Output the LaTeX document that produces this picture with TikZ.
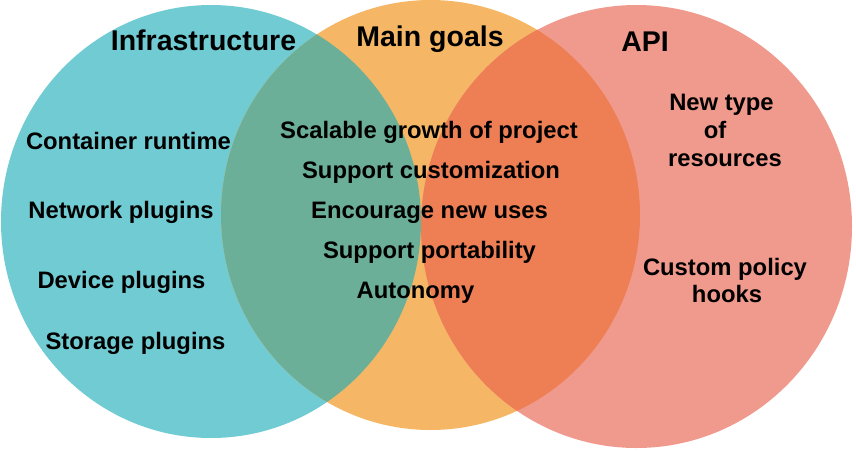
\documentclass[tikz,border=0pt]{standalone}
\usepackage{fontspec}
\setmainfont{Liberation Sans}
\definecolor{cteal}{HTML}{70CBD2}
\definecolor{corange}{HTML}{F5B766}
\definecolor{csalmon}{HTML}{F09A8D}
\definecolor{cgreen}{HTML}{6BAF98}
\definecolor{cred}{HTML}{EE7E54}
\tikzset{
  title/.style={anchor=base, inner sep=0pt, font=\bfseries\fontsize{28.5}{32}\selectfont},
  item/.style={anchor=base, inner sep=0pt, font=\bfseries\fontsize{23.8}{28}\selectfont},
}
\begin{document}
\begin{tikzpicture}[x=1pt,y=-1pt]
\useasboundingbox (0,0) rectangle (856,450);
\def\pathL{(211,221.5) ellipse [x radius=210pt, y radius=216.5pt]}
\def\pathM{(430.5,215) ellipse [x radius=209.5pt, y radius=215pt]}
\def\pathR{(636.5,226.5) ellipse [x radius=215.5pt, y radius=221.5pt]}
\fill[cteal] \pathL;
\fill[corange] \pathM;
\fill[csalmon] \pathR;
\begin{scope}
  \clip \pathM;
  \fill[cgreen] \pathL;
\end{scope}
\begin{scope}
  \clip \pathM;
  \fill[cred] \pathR;
\end{scope}
% titles
\node[title] (infra) at (203.5,50) {Infrastructure};
\node[title] (goals) at (430,46) {Main goals};
\node[title] (api) at (645,51) {API};
% infrastructure items
\node[item] (cr) at (128.5,149) {Container runtime};
\node[item] (np) at (121,218) {Network plugins};
\node[item] (dp) at (121.5,288) {Device plugins};
\node[item] (sp) at (135.5,349) {Storage plugins};
% goals
\node[item] (g1) at (429,138.5) {Scalable growth of project};
\node[item] (g2) at (431,178.5) {Support customization};
\node[item] (g3) at (429.5,218.5) {Encourage new uses};
\node[item] (g4) at (429.5,258.5) {Support portability};
\node[item] (g5) at (415.5,298.5) {Autonomy};
% api
\node[item] (a1) at (721.5,110) {New type};
\node[item] (a2) at (715,138) {of};
\node[item] (a3) at (725,166) {resources};
\node[item] (a4) at (725,275) {Custom policy};
\node[item] (a5) at (727,302.5) {hooks};
\end{tikzpicture}
\end{document}
